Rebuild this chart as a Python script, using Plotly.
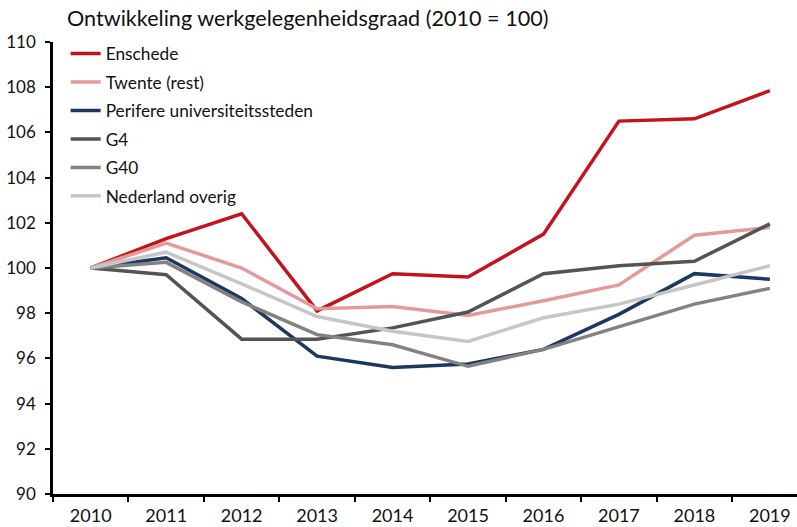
import plotly.graph_objects as go

years = ["2010", "2011", "2012", "2013", "2014", "2015", "2016", "2017", "2018", "2019"]
enschede = [100, 101.3, 102.4, 98.1, 99.75, 99.6, 101.5, 106.5, 106.6, 107.85]
twente = [100, 101.1, 100.0, 98.2, 98.3, 97.9, 98.55, 99.25, 101.45, 101.8]
perifere = [100, 100.45, 98.65, 96.1, 95.6, 95.75, 96.4, 97.95, 99.75, 99.5]
g4 = [100, 99.7, 96.85, 96.85, 97.35, 98.05, 99.75, 100.1, 100.3, 101.95]
g40 = [100, 100.25, 98.5, 97.05, 96.6, 95.65, 96.4, 97.4, 98.4, 99.1]
nl_overig = [100, 100.7, 99.3, 97.85, 97.2, 96.75, 97.8, 98.4, 99.25, 100.1]

series = [
    ("Enschede", enschede, "#C4121F"),
    ("Twente (rest)", twente, "#E39A9A"),
    ("Perifere universiteitssteden", perifere, "#1C3760"),
    ("G4", g4, "#545454"),
    ("G40", g40, "#828282"),
    ("Nederland overig", nl_overig, "#C6C6C6"),
]

fig = go.Figure()
for i, (name, vals, col) in enumerate(series):
    fig.add_trace(go.Scatter(x=years, y=vals, mode="lines", name=name,
                             legendgroup=str(i),
                             line=dict(color=col, width=3.5)))

font = "Lato, Open Sans, Liberation Sans, sans-serif"
fig.update_layout(
    width=797, height=527,
    margin=dict(l=53, r=0, t=42, b=33),
    paper_bgcolor="white", plot_bgcolor="white",
    font=dict(family=font, size=17, color="#111111"),
    title=dict(text="Ontwikkeling werkgelegenheidsgraad (2010 = 100)",
               x=67 / 797, xanchor="left", y=1 - 18 / 527, yanchor="middle",
               font=dict(size=21.6, color="#111111")),
    showlegend=True,
    legend=dict(x=0.017, y=1.014, xanchor="left", yanchor="top",
                font=dict(size=17.3, color="#111111"), bgcolor="rgba(0,0,0,0)",
                tracegroupgap=3, itemwidth=30),
    xaxis=dict(type="category", range=[-0.5, 9.36], showgrid=False,
               automargin=False,
               showline=True, linecolor="black", linewidth=2.5,
               ticks="outside", tickson="boundaries", ticklen=5, tickwidth=2,
               tickcolor="black", tickfont=dict(size=18), ticklabelstandoff=4),
    yaxis=dict(range=[90, 110], dtick=2, showgrid=False, zeroline=False,
               automargin=False,
               showline=True, linecolor="black", linewidth=2.5,
               ticks="outside", ticklen=5, tickwidth=2, tickcolor="black",
               tickfont=dict(size=17), ticklabelstandoff=6),
)

fig.write_html("out.html", config={"displayModeBar": False},
               post_script="document.body.style.margin='0';")
